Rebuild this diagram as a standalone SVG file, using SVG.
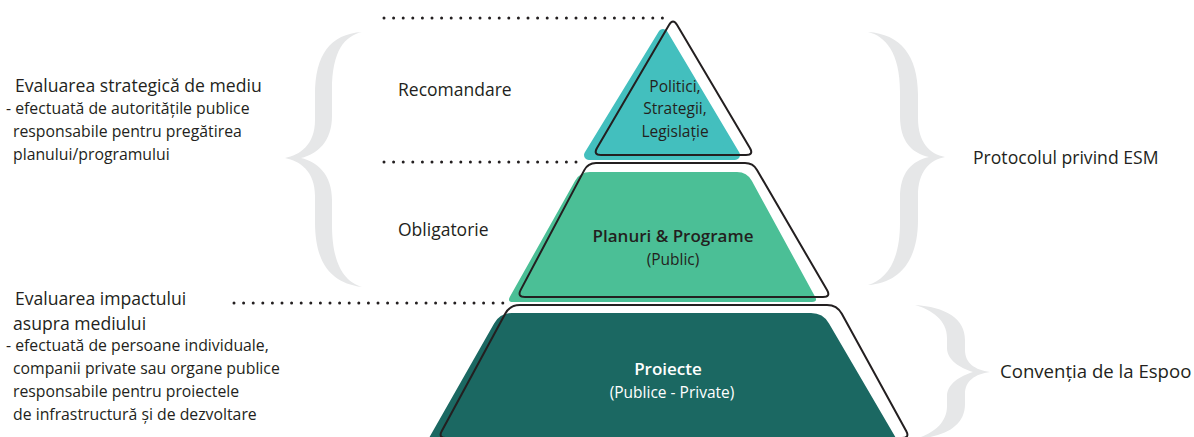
<svg xmlns="http://www.w3.org/2000/svg" width="1194" height="437" viewBox="0 0 1194 437">
<style>
text{font-family:"Open Sans","Noto Sans","Liberation Sans",sans-serif;fill:#231F20}
.lbl{font-size:15.5px}
.lv{font-size:17.5px}
.sm{font-size:15.8px}
.hd{font-size:17.6px}
.ctr{text-anchor:middle}
.brace{fill:#E6E7E8}
.outline{fill:none;stroke:#231F20;stroke-width:2}
.dots{stroke:#231F20;stroke-width:3;stroke-linecap:round;stroke-dasharray:0 9.6;fill:none}
</style>
<rect width="1194" height="437" fill="#fff"/>
<g id="braces">
<path class="brace" d="M362,32 C330,34 315,55 315,95 L315,120 C315,145 300,155 285,158 C300,161 315,171 315,196 L315,222 C315,262 330,283 362,287 C345,282 332,265 332,225 L332,200 C332,175 318,162 301,158 C318,154 332,141 332,116 L332,90 C332,50 345,36 362,32 Z"/>
<path class="brace" d="M868,32 C900,34 918,55 918,95 L918,118 C918,143 930,154 945,157 C930,160 918,171 918,196 L918,220 C918,260 900,283 868,285 C885,280 900,263 900,223 L900,198 C900,172 912,161 929,157 C912,153 900,142 900,116 L900,92 C900,52 885,36 868,32 Z"/>
<path class="brace" d="M915,305 C945,307 965,318 965,340 L965,350 C965,363 975,370 990,372 C975,374 965,381 965,394 L965,404 C965,426 945,437 915,439 C932,434 947,424 947,406 L947,396 C947,384 960,376 973,372 C960,368 947,360 947,348 L947,338 C947,320 932,310 915,305 Z"/>
</g>
<g id="connectors">
<line class="dots" x1="384" y1="18" x2="668" y2="18"/>
<line class="dots" x1="384" y1="162" x2="585" y2="162"/>
<line class="dots" x1="234" y1="303" x2="508" y2="303"/>
</g>
<g id="tier-top">
<polygon points="663,34 589,155 735,155" fill="#43BFBE" stroke="#43BFBE" stroke-width="10" stroke-linejoin="round"/>
<path class="outline" d="M669,24.9 Q673,18 677.1,24.9 L749.9,148.1 Q754,155 746,155 L601,155 Q593,155 597,148.1 Z"/>
<text class="lbl ctr" x="675" y="92">Politici,</text>
<text class="lbl ctr" x="675" y="114">Strategii,</text>
<text class="lbl ctr" x="675" y="137">Legislație</text>
</g>
<g id="tier-middle">
<path fill="#4BBF96" d="M590,172 L737,172 Q747,172 751.8,180.8 L815.1,296.7 Q818,302 812,302 L513,302 Q507,302 509.9,296.8 L575.1,180.7 Q580,172 590,172 Z"/>
<path class="outline" d="M596,163 L745,163 Q753,163 757,169.9 L827,290.1 Q831,297 823,297 L525,297 Q517,297 520.7,289.9 L584.3,170.1 Q588,163 596,163 Z"/>
<text class="ctr" x="673" y="242" style="font-size:17px;font-weight:600">Planuri &amp; Programe</text>
<text class="lbl ctr" x="673" y="265">(Public)</text>
</g>
<g id="tier-bottom">
<path fill="#1B6862" d="M512,313 L811,313 Q823,313 829,323.4 L900,445 L425,445 L494.1,323.5 Q500,313 512,313 Z"/>
<path class="outline" d="M520,305 L827,305 Q837,305 841.8,313.8 L906.2,431 Q910,438 902,438 L446,438 Q438,438 441.8,431 L505.2,313.8 Q510,305 520,305 Z"/>
<text class="ctr" x="668" y="375" style="font-size:17px;font-weight:600;fill:#fff">Proiecte</text>
<text class="lbl ctr" x="672" y="398" style="fill:#fff">(Publice - Private)</text>
</g>
<g id="level-labels">
<text class="lv" x="398" y="96">Recomandare</text>
<text class="lv" x="398" y="236">Obligatorie</text>
</g>
<g id="sea-text">
<text class="hd" x="15" y="92">Evaluarea strategică de mediu</text>
<text class="sm" x="6" y="114">- efectuată de autoritățile publice</text>
<text class="sm" x="13" y="137">responsabile pentru pregătirea</text>
<text class="sm" x="13" y="160">planului/programului</text>
</g>
<g id="eia-text">
<text class="hd" x="15" y="305">Evaluarea impactului</text>
<text class="hd" x="13" y="330">asupra mediului</text>
<text class="sm" x="6" y="351">- efectuată de persoane individuale,</text>
<text class="sm" x="13" y="374">companii private sau organe publice</text>
<text class="sm" x="13" y="397">responsabile pentru proiectele</text>
<text class="sm" x="13" y="420">de infrastructură și de dezvoltare</text>
</g>
<g id="protocol-labels">
<text class="hd" x="973" y="164">Protocolul privind ESM</text>
<text class="hd" x="1000" y="378" style="font-size:18.6px">Convenția de la Espoo</text>
</g>
</svg>
